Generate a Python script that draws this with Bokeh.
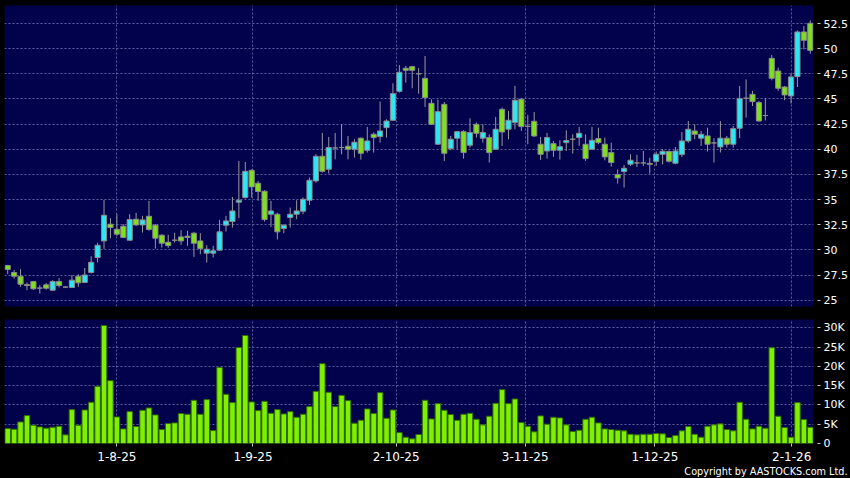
from bokeh.plotting import figure
from bokeh.layouts import column
from bokeh.models import Range1d, FixedTicker, Title, ColumnDataSource
from bokeh.embed import file_html
from bokeh.resources import INLINE

# ---- data (one entry per trading day) ----
opens = [28.45, 27.75, 27.38, 26.55, 26.85, 26.2, 26.52, 25.99, 26.85, 26.3,
         26.26, 27.38, 26.75, 27.75, 29.24, 30.89, 32.55, 32.05, 32.35, 30.96,
         33.05, 32.48, 33.34, 32.45, 31.46, 30.76, 30.96, 31.29, 31.36, 31.66,
         30.89, 29.67, 29.67, 29.97, 32.45, 32.81, 34.74, 35.2, 37.91, 36.62,
         35.83, 33.54, 33.54, 32.12, 33.21, 33.54, 33.84, 34.93, 36.85, 39.3,
         38.01, 40.13, 40.17, 40.3, 40.0, 41.1, 39.9, 41.49, 41.26, 42.15,
         42.88, 45.76, 48.05, 48.21, 47.5, 47.05, 44.57, 40.5, 44.47, 40.07,
         41.1, 41.75, 40.4, 42.48, 41.1, 41.16, 40.0, 43.97, 41.99, 42.65,
         44.97, 42.28, 42.78, 40.5, 39.83, 40.56, 39.9, 40.66, 41.0, 41.16,
         40.5, 40.0, 41.06, 40.5, 39.67, 37.48, 37.78, 38.51, 38.64, 38.64,
         38.6, 38.8, 39.5, 39.77, 38.61, 39.47, 40.83, 41.82, 41.1, 41.33,
         40.63, 40.23, 41.1, 40.5, 42.09, 45.07, 45.46, 44.64, 43.35, 49.04,
         47.78, 46.19, 45.3, 47.22, 51.66, 52.52]
highs = [28.5, 28.0, 28.08, 26.75, 26.9, 26.5, 26.7, 26.99, 27.2, 26.4,
         27.5, 27.58, 28.2, 29.37, 30.7, 34.97, 33.15, 33.54, 32.55, 33.54,
         33.67, 33.38, 34.87, 32.55, 31.56, 31.5, 31.7, 31.95, 31.9, 31.79,
         31.66, 30.46, 30.4, 32.98, 33.38, 35.26, 38.84, 38.74, 38.0, 36.85,
         35.93, 34.87, 33.7, 32.55, 34.2, 34.93, 35.2, 37.19, 39.5, 41.62,
         41.23, 41.62, 42.48, 41.32, 41.0, 41.16, 42.22, 41.66, 44.74, 42.98,
         46.56, 48.38, 48.28, 48.28, 48.08, 49.27, 44.97, 44.93, 44.7, 41.32,
         41.82, 41.89, 43.08, 42.65, 42.48, 41.49, 43.21, 44.14, 43.8, 46.29,
         45.07, 43.41, 43.71, 41.23, 41.62, 40.83, 40.89, 41.89, 41.49, 42.22,
         41.49, 42.22, 42.15, 41.16, 40.66, 38.0, 38.44, 39.5, 39.44, 39.83,
         39.17, 39.77, 40.0, 39.9, 40.23, 41.72, 42.81, 42.48, 41.82, 42.15,
         41.1, 42.81, 41.32, 42.32, 46.29, 46.95, 45.8, 44.8, 45.07, 49.37,
         48.11, 46.29, 47.52, 51.82, 52.25, 52.81]
lows = [27.6, 27.15, 26.32, 26.0, 26.0, 25.66, 26.05, 25.93, 26.26, 26.2,
        26.2, 26.32, 26.7, 27.65, 28.74, 30.07, 31.16, 31.39, 31.16, 30.89,
        32.38, 31.72, 31.89, 30.13, 30.23, 30.2, 30.73, 30.5, 30.4, 29.3,
        29.57, 28.74, 29.24, 29.9, 31.82, 32.22, 33.15, 35.1, 35.2, 34.87,
        32.81, 32.28, 31.03, 31.66, 32.22, 33.05, 33.54, 34.47, 36.69, 37.68,
        37.58, 39.0, 39.5, 39.0, 39.17, 38.97, 39.67, 39.67, 40.66, 41.16,
        42.81, 45.63, 46.62, 46.06, 45.53, 44.2, 42.42, 40.43, 38.84, 39.9,
        40.0, 39.07, 40.17, 41.16, 40.66, 38.68, 39.93, 40.33, 40.99, 41.99,
        41.82, 40.5, 41.23, 38.94, 39.07, 39.24, 38.97, 39.83, 39.57, 40.33,
        38.84, 39.93, 40.5, 38.9, 38.28, 36.59, 36.19, 38.34, 38.24, 38.34,
        37.58, 38.34, 38.5, 38.68, 38.51, 39.24, 40.66, 40.99, 40.33, 39.77,
        38.68, 39.67, 40.17, 40.17, 41.1, 43.15, 44.3, 42.75, 42.88, 46.85,
        45.8, 44.87, 44.54, 46.19, 49.93, 49.5]
closes = [28.05, 27.38, 26.59, 26.45, 26.13, 26.2, 26.19, 26.85, 26.46, 26.3,
          26.99, 26.72, 27.5, 28.77, 30.46, 33.44, 32.22, 31.56, 31.23, 33.01,
          32.48, 32.98, 32.02, 31.16, 30.66, 30.43, 30.96, 30.89, 31.23, 30.66,
          30.13, 30.07, 29.9, 31.79, 32.88, 33.87, 34.93, 37.81, 36.26, 35.8,
          33.01, 33.87, 31.79, 32.45, 33.54, 33.87, 35.03, 36.92, 39.3, 37.81,
          40.17, 40.13, 40.17, 40.0, 40.7, 39.6, 40.83, 41.16, 41.82, 42.81,
          45.53, 47.65, 47.85, 47.85, 47.5, 45.13, 42.48, 43.74, 39.6, 41.0,
          41.75, 39.67, 41.66, 41.59, 41.66, 39.67, 41.99, 41.72, 42.88, 44.87,
          42.25, 42.28, 41.32, 39.5, 41.16, 39.9, 40.26, 40.86, 41.0, 41.59,
          39.07, 40.89, 40.66, 39.24, 38.68, 37.15, 38.11, 38.91, 38.64, 38.64,
          38.5, 39.5, 39.8, 38.81, 39.83, 40.83, 41.99, 41.49, 41.49, 40.5,
          40.63, 41.1, 40.5, 42.05, 45.03, 45.07, 44.74, 42.81, 43.35, 47.05,
          46.06, 45.4, 47.19, 51.66, 50.83, 49.83]
volumes = [3880, 3700, 5600, 7240, 4740, 4310, 3970, 4220, 4480, 2240,
           8790, 4740, 8700, 10690, 14830, 30600, 16290, 6900, 3790, 8280,
           4400, 8620, 9220, 7410, 3620, 5170, 5340, 7760, 7590, 11200,
           7590, 11380, 3360, 19740, 12760, 10600, 24900, 28000, 10780, 8530,
           10950, 7840, 8790, 7670, 8280, 6810, 7590, 9570, 13530, 20690,
           13280, 9570, 12500, 11120, 5260, 6030, 8970, 7760, 13190, 6550,
           8700, 2840, 1640, 1210, 2330, 11200, 6380, 10340, 8620, 7500,
           6030, 7590, 7840, 6290, 4830, 7070, 10430, 13970, 10340, 11550,
           5430, 4480, 3020, 7160, 5000, 6810, 6640, 4830, 3100, 3450,
           6290, 6810, 5340, 3790, 3620, 3450, 3280, 2410, 2240, 2410,
           2410, 2590, 2500, 1550, 2070, 3280, 4400, 2410, 1640, 4480,
           4830, 5090, 3620, 3280, 10690, 6290, 3790, 4480, 3970, 24830,
           7070, 4140, 1640, 10600, 6210, 4220]

date_ticks = [17, 38.2, 60.5, 80.6, 100.8, 122.1]
date_labels = ["1-8-25", "1-9-25", "2-10-25", "3-11-25", "1-12-25", "2-1-26"]
price_ticks = [25, 27.5, 30, 32.5, 35, 37.5, 40, 42.5, 45, 47.5, 50, 52.5]
price_labels = ["25", "27.5", "30", "32.5", "35", "37.5", "40", "42.5", "45", "47.5", "50", "52.5"]
vol_ticks = [0, 5000, 10000, 15000, 20000, 25000, 30000]
vol_labels = ["0", "5K", "10K", "15K", "20K", "25K", "30K"]

# ---- styling ----
BG = "#02024C"
GRID = "#5C5C9E"
UP = "#2EE6F2"
DOWN = "#7FDF1E"
FLAT = "#8C8C8C"
FONT = "DejaVu Sans"

n = len(opens)
idx = list(range(n))
colors = [UP if c > o else (DOWN if c < o else FLAT) for o, c in zip(opens, closes)]
src = ColumnDataSource(dict(x=idx, o=opens, h=highs, l=lows, c=closes,
                            top=[max(a, b) for a, b in zip(opens, closes)],
                            bot=[min(a, b) for a, b in zip(opens, closes)],
                            col=colors, v=volumes))

xr = Range1d(-0.5, n - 0.5)

p1 = figure(width=850, height=319, x_range=xr, y_range=Range1d(24.37, 54.29),
            y_axis_location="right", x_axis_location=None,
            output_backend="svg", toolbar_location=None,
            min_border_left=4, min_border_top=5, min_border_bottom=13, min_border_right=36)
p2 = figure(width=850, height=159, x_range=xr, y_range=Range1d(0, 32150),
            y_axis_location="right",
            output_backend="svg", toolbar_location=None,
            min_border_left=4, min_border_top=0, min_border_bottom=35, min_border_right=36)

for p in (p1, p2):
    p.background_fill_color = BG
    p.border_fill_color = "#000000"
    p.outline_line_color = None
    p.xgrid.ticker = FixedTicker(ticks=date_ticks)
    for g in (p.xgrid, p.ygrid):
        g.grid_line_color = GRID
        g.grid_line_dash = "2 2"
        g.grid_line_width = 1
    ax = p.yaxis[0]
    ax.axis_line_color = None
    ax.major_tick_line_color = "#C8C8C8"
    ax.major_tick_in = -4
    ax.major_tick_out = 7
    ax.minor_tick_line_color = None
    ax.major_label_standoff = 3
    ax.major_label_text_color = "#FFFFFF"
    ax.major_label_text_font = FONT
    ax.major_label_text_font_size = "11px"

p1.yaxis.ticker = FixedTicker(ticks=price_ticks)
p1.ygrid.ticker = FixedTicker(ticks=price_ticks)
p1.yaxis.major_label_overrides = dict(zip(price_ticks, price_labels))

p2.yaxis.ticker = FixedTicker(ticks=vol_ticks)
p2.ygrid.ticker = FixedTicker(ticks=vol_ticks)
p2.yaxis.major_label_overrides = dict(zip(vol_ticks, vol_labels))

xa = p2.xaxis[0]
xa.ticker = FixedTicker(ticks=date_ticks)
xa.major_label_overrides = dict(zip(date_ticks, date_labels))
xa.axis_line_color = None
xa.major_tick_line_color = "#C8C8C8"
xa.major_tick_in = 0
xa.major_tick_out = 3
xa.minor_tick_line_color = None
xa.major_label_standoff = 5
xa.major_label_text_color = "#FFFFFF"
xa.major_label_text_font = FONT
xa.major_label_text_font_size = "12px"

# candles
p1.segment(x0="x", y0="h", x1="x", y1="l", source=src, line_color="#9A9A9A", line_width=1)
p1.vbar(x="x", top="top", bottom="bot", width=0.8, source=src,
        fill_color="col", line_color="#8A8A8A", line_width=1)

# volume
p2.vbar(x="x", top="v", bottom=0, width=0.86, source=src,
        fill_color="#80F000", line_color="#2F6A00", line_width=1)

p2.add_layout(Title(text="Copyright by AASTOCKS.com Ltd.", align="right",
                    text_color="#FFFFFF", text_font=FONT, text_font_size="9.7px",
                    text_font_style="normal", offset=-34, standoff=0), "below")

layout = column(p1, p2, spacing=0)
layout.background = "#000000"
open("out.html", "w").write(file_html(layout, INLINE))
